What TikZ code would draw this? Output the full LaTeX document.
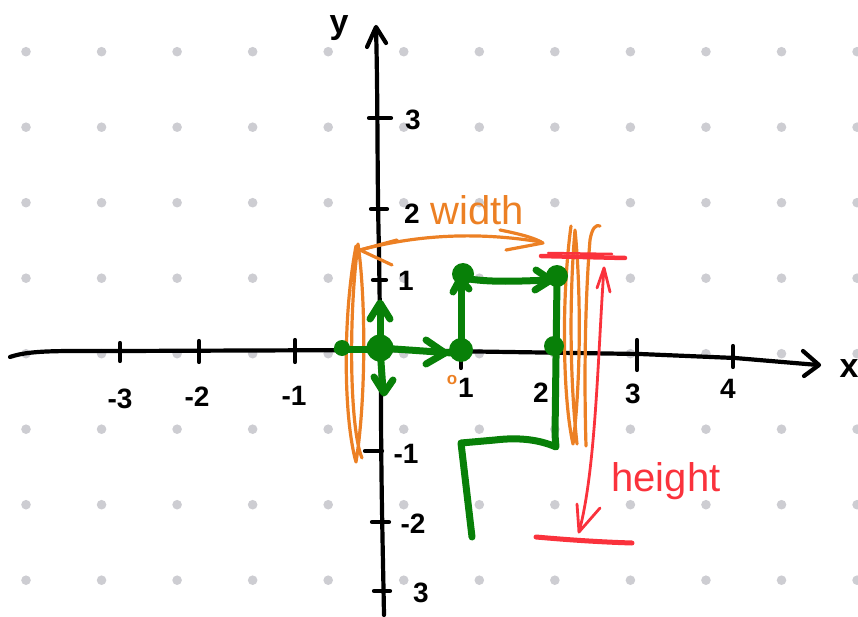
\documentclass[tikz,border=0pt]{standalone}
\usepackage{fontspec}
\setmainfont{Liberation Sans}
\usetikzlibrary{arrows.meta}
\definecolor{gdot}{RGB}{205,205,210}
\definecolor{pgreen}{RGB}{8,128,8}
\definecolor{porange}{RGB}{236,128,36}
\definecolor{pred}{RGB}{250,50,60}
\tikzset{
  axisline/.style={line width=4.2pt,black,line cap=round,line join=round},
  greenline/.style={line width=7pt,pgreen,line cap=round,line join=round},
  orangeline/.style={line width=3.2pt,porange,line cap=round,line join=round},
  redline/.style={line width=2.8pt,pred,line cap=round,line join=round},
  ticklabel/.style={font=\fontsize{28}{30}\selectfont\bfseries,text=black,inner sep=0pt},
  blob/.style={fill=pgreen,draw=none},
}
\begin{document}
\begin{tikzpicture}[x=1pt,y=-1pt]
\useasboundingbox (0,0) rectangle (858,617);
% dot grid
\foreach \i in {0,...,11}{
  \foreach \j in {0,...,7}{
    \fill[gdot] (26+75.55*\i,51.7+75.5*\j) circle (4.8pt);
  }
}
% x axis
\draw[axisline] (10,357) .. controls (30,350) and (60,351) .. (120,351) -- (378,350) -- (640,354) -- (735,358) -- (818,365);
\draw[axisline] (803,351) -- (819,365) -- (804,376);
\foreach \xx/\ya/\yb in {120/343/361,199/341/362,295/340/362,461/344/368,637/340/370,733/346/367}{
  \draw[axisline] (\xx,\ya) -- (\xx,\yb);
}
% y axis
\draw[axisline] (384,615) .. controls (383,560) and (381,480) .. (381,400) -- (379,250) .. controls (377,180) and (378,100) .. (376,28);
\draw[axisline] (367,47) -- (376,27) -- (386,43);
\foreach \yy/\xa/\xb in {118/369/391,209/371/387,280/373/386,451/365/382,522/372/389,591/374/390}{
  \draw[axisline] (\xa,\yy) -- (\xb,\yy);
}
% tick labels
\node[ticklabel] (lm3) at (120,399) {-3};
\node[ticklabel] (lm2) at (197,397) {-2};
\node[ticklabel] (lm1) at (294,396) {-1};
\node[ticklabel] (l1) at (466,388) {1};
\node[ticklabel] (l2) at (541,393) {2};
\node[ticklabel] (l3) at (633,394) {3};
\node[ticklabel] (l4) at (728,389) {4};
\node[ticklabel,font=\fontsize{34}{36}\selectfont\bfseries] (lx) at (849,369) {x};
\node[ticklabel,font=\fontsize{34}{36}\selectfont\bfseries] (ly) at (339,28) {y};
\node[ticklabel] (ly3) at (413,120) {3};
\node[ticklabel] (ly2) at (412,214) {2};
\node[ticklabel] (ly1) at (406,281) {1};
\node[ticklabel] (lym1) at (406,454) {-1};
\node[ticklabel] (lym2) at (413,524) {-2};
\node[ticklabel] (lym3) at (421,593) {3};
\node[inner sep=0pt,text=porange,font=\fontsize{17}{17}\selectfont\bfseries] (lo) at (452,380) {o};
% orange width marks
\draw[orangeline] (356,246) .. controls (342,320) and (344,420) .. (356,462) .. controls (366,400) and (366,300) .. (358,244) .. controls (348,320) and (350,430) .. (362,458);
\draw[orangeline] (571,226) .. controls (561,300) and (563,400) .. (573,444) .. controls (581,380) and (581,290) .. (575,230) .. controls (569,300) and (570,380) .. (577,444);
\draw[orangeline] (586,446) .. controls (584,380) and (585,300) .. (590,240) .. controls (592,228) and (596,224) .. (600,226);
\draw[orangeline] (360,250) .. controls (420,234) and (480,232) .. (541,242);
\draw[orangeline] (397,240) -- (360,250) -- (392,265);
\draw[orangeline] (500,230) .. controls (520,234) and (535,238) .. (543,243) -- (506,250);
\node[inner sep=0pt,text=porange,font=\fontsize{40}{42}\selectfont] (wlabel) at (477,210) {width};
% red height marks
\draw[pred,line width=4.5pt,line cap=round] (541,256) -- (625,258);
\draw[pred,line width=2.5pt,line cap=round] (548,253) -- (612,254);
\draw[redline] (604,268) .. controls (598,350) and (596,470) .. (579,532);
\draw[redline] (597,288) -- (604,268) -- (610,292);
\draw[redline] (577,504) -- (579,532) -- (600,508);
\draw[pred,line width=5pt,line cap=round] (536,537) .. controls (570,540) and (600,542) .. (632,543);
\node[inner sep=0pt,text=pred,font=\fontsize{40}{42}\selectfont] (hlabel) at (666,481) {height};
% green path
\draw[greenline] (337,349) -- (380,349);
\fill[blob] (342,348) circle (8pt);
\fill[blob] (380,348) circle (13.5pt);
\draw[greenline] (380,348) -- (380,304);
\draw[greenline] (370,319) -- (380,303) -- (390,319);
\draw[greenline] (380,348) -- (383,390);
\draw[greenline] (374,377) -- (384,393) -- (393,380);
\draw[greenline] (380,348) -- (452,353);
\draw[greenline] (426,340) -- (445,353) -- (426,364);
\fill[blob] (461,350) circle (12pt);
\draw[greenline] (461,350) -- (461,280);
\draw[greenline] (453,292) -- (460,279) -- (469,289);
\fill[blob] (463,274) circle (11pt);
\draw[greenline] (463,278) .. controls (490,283) and (520,281) .. (552,280);
\draw[greenline] (536,270) -- (551,280) -- (535,290);
\fill[blob] (557,276) circle (11pt);
\fill[blob] (554,346) circle (10pt);
\draw[greenline] (557,280) -- (555,435) -- (556,447) .. controls (540,440) and (520,437) .. (495,440) -- (461,443) -- (472,537);
\end{tikzpicture}
\end{document}
